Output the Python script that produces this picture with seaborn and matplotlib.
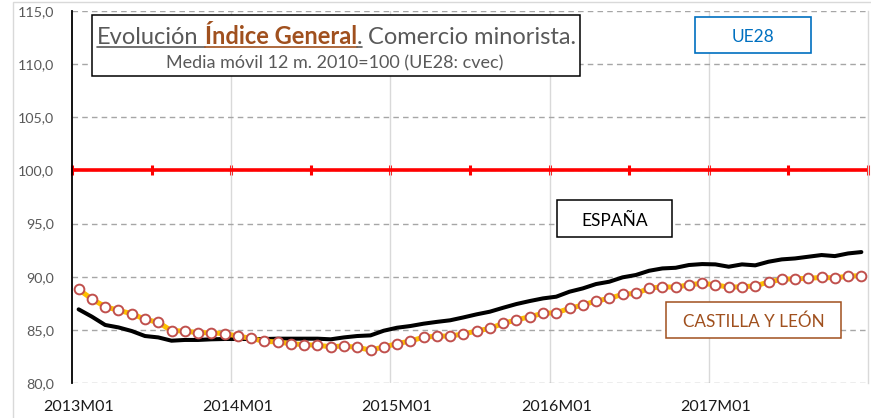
import numpy as np
import pandas as pd
import matplotlib
matplotlib.use("Agg")
import matplotlib.pyplot as plt
import seaborn as sns
from matplotlib.patches import Rectangle
from matplotlib.lines import Line2D
from matplotlib.ticker import MultipleLocator, FuncFormatter

# ---------------- data ----------------
months = [f"{y}M{m:02d}" for y in range(2013, 2018) for m in range(1, 13)]

espana = [86.93, 86.24, 85.46, 85.23, 84.89, 84.42, 84.29, 83.98, 84.05, 84.05,
          84.11, 84.14, 84.14, 84.14, 84.14, 84.17, 84.17, 84.17, 84.17, 84.11,
          84.29, 84.42, 84.48, 84.92, 85.20, 85.36, 85.58, 85.75, 85.90, 86.17,
          86.46, 86.71, 87.08, 87.43, 87.71, 87.96, 88.12, 88.59, 88.90, 89.31,
          89.53, 89.94, 90.16, 90.56, 90.78, 90.84, 91.10, 91.19, 91.16, 90.94,
          91.16, 91.07, 91.41, 91.63, 91.72, 91.88, 92.04, 91.94, 92.19, 92.32]

castilla = [88.81, 87.90, 87.18, 86.84, 86.52, 85.99, 85.71, 84.92, 84.89, 84.73,
            84.73, 84.64, 84.42, 84.20, 83.92, 83.86, 83.70, 83.61, 83.54, 83.42,
            83.48, 83.35, 83.10, 83.39, 83.70, 83.95, 84.31, 84.40, 84.42, 84.61,
            84.89, 85.14, 85.61, 85.93, 86.24, 86.55, 86.61, 87.02, 87.34, 87.71,
            87.96, 88.34, 88.43, 88.90, 89.06, 89.00, 89.25, 89.37, 89.25, 89.00,
            89.06, 89.13, 89.50, 89.75, 89.81, 89.84, 89.94, 89.88, 90.06, 90.09]

tick_labels = ["2013M01", "2014M01", "2015M01", "2016M01", "2017M01"]
ue28_base = 100.0
y_range = (80, 115)

title_parts = [("Evolución", "gray", "normal", True),
               ("Índice General", "brown", "bold", True),
               (".", "gray", "normal", True),
               ("Comercio minorista.", "gray", "normal", False)]
subtitle = "Media móvil 12 m. 2010=100 (UE28: cvec)"

# ---------------- style ----------------
sns.set_theme(style="white")
plt.rcParams["font.family"] = ["Lato", "DejaVu Sans"]

GRAY = "#595959"
BROWN = "#A0501E"
BLUE = "#0070C0"

W, H = 871, 418
fig = plt.figure(figsize=(W / 100, H / 100), dpi=100)
fig.patch.set_facecolor("white")
ax = fig.add_axes([72 / W, 1 - 383 / H, (868 - 72) / W, (383 - 11) / H])

df = pd.DataFrame({"mes": months, "idx": np.arange(len(months)),
                   "España": espana, "Castilla y León": castilla})

sns.lineplot(data=df, x="idx", y="España", ax=ax, color="black", lw=2.9,
             zorder=3)
sns.lineplot(data=df, x="idx", y="Castilla y León", ax=ax, color="#FFC000",
             lw=3.6, marker="o", markersize=7, markerfacecolor="white",
             markeredgecolor="#C0504D", markeredgewidth=1.4, zorder=4)

n = len(months)
ax.set_xlim(-0.5, n - 0.5)
ax.set_ylim(*y_range)
ax.set_xlabel("")
ax.set_ylabel("")

# x axis: labels at the labelled months, gridlines at year boundaries
ax.set_xticks([months.index(t) for t in tick_labels])
ax.set_xticklabels(tick_labels)
ax.set_xticks([months.index(t) - 0.5 for t in tick_labels[1:]], minor=True)
ax.tick_params(axis="x", which="both", length=0, labelsize=11.5,
               labelcolor="#1a1a1a", pad=12)
ax.grid(which="minor", axis="x", color="#D9D9D9", lw=1, ls="-")

# y axis
ax.yaxis.set_major_locator(MultipleLocator(5))
ax.yaxis.set_minor_locator(MultipleLocator(1))
ax.yaxis.set_major_formatter(FuncFormatter(lambda v, p: f"{v:.1f}".replace(".", ",")))
ax.tick_params(axis="y", which="both", direction="inout", length=7.5,
               width=1.1, color="black", labelsize=10.3, labelcolor=GRAY, pad=9)
ax.grid(which="major", axis="y", color="#A6A6A6", ls=(0, (4, 3)), lw=1)
ax.set_axisbelow(True)

for s in ["top", "bottom"]:
    ax.spines[s].set_visible(False)
ax.spines["left"].set_color("black")
ax.spines["left"].set_linewidth(1.3)
ax.spines["right"].set_color("#D9D9D9")
ax.spines["right"].set_linewidth(1)

# red UE28 axis at 100
ax.axhline(ue28_base, color="#FF0000", lw=2.6, zorder=2.5)
loc = (ue28_base - y_range[0]) / (y_range[1] - y_range[0])
sec = ax.secondary_xaxis(loc)
sec.set_xticks(np.arange(-0.5, n, 6))
sec.tick_params(direction="inout", length=7, width=2.2, color="#FF0000",
                labeltop=False, labelbottom=False)
for sp in sec.spines.values():
    sp.set_visible(False)

# outer chart border
fig.add_artist(Rectangle((13 / W, -0.05), 1.0, 1 - 2 / H + 0.05,
                         transform=fig.transFigure, fill=False,
                         ec="#D9D9D9", lw=1))


def box(x0, y0, x1, y1, ec, lw=1.1):
    fig.add_artist(Rectangle((x0 / W, 1 - y1 / H), (x1 - x0) / W, (y1 - y0) / H,
                             transform=fig.transFigure, fc="white", ec=ec,
                             lw=lw, zorder=10))


# title box
box(92, 15, 580, 76, "black", 1.1)
r = fig.canvas.get_renderer()
fs_title = 17


def text_w(s, **kw):
    t = fig.text(0, 0, s, fontsize=fs_title, **kw)
    w = t.get_window_extent(r).width
    t.remove()
    return w


space_w = text_w("a a") - text_w("aa")
xcur = 97
base_y = 44
colors = {"gray": GRAY, "brown": BROWN}
for i, (txt, c, wt, ul) in enumerate(title_parts):
    t = fig.text(xcur / W, 1 - base_y / H, txt, color=colors[c], fontsize=fs_title,
                 fontweight=wt, va="baseline", ha="left", zorder=11)
    bb = t.get_window_extent(r)
    xend = bb.x1
    nxt_gap = 0 if (i + 1 < len(title_parts) and title_parts[i + 1][0] == ".") else space_w
    if i == len(title_parts) - 1:
        nxt_gap = 0
    if ul:
        ul_end = xend + (nxt_gap if c == "gray" and txt != "." else 0)
        fig.add_artist(Line2D([xcur / W, ul_end / W], [1 - (base_y + 3) / H] * 2,
                              color=colors[c], lw=1.2, zorder=11))
    xcur = xend + nxt_gap

fig.text(334.5 / W, 1 - 68.5 / H, subtitle, color=GRAY, fontsize=13, ha="center",
         va="baseline", zorder=11)

# UE28 label
box(695, 17, 811, 53, BLUE, 1.2)
fig.text(753 / W, 1 - 35 / H, "UE28", color=BLUE, fontsize=12.5, ha="center",
         va="center_baseline", zorder=11)

# ESPAÑA label
box(557, 200, 672, 237, "black", 1.1)
fig.text(614.5 / W, 1 - 219 / H, "ESPAÑA", color="black", fontsize=12.5, ha="center",
         va="center_baseline", zorder=11)

# CASTILLA Y LEÓN label
box(666, 302, 841, 338, BROWN, 1.1)
fig.text(753.5 / W, 1 - 320.5 / H, "CASTILLA Y LEÓN", color=BROWN, fontsize=12.3,
         ha="center", va="center_baseline", zorder=11)

fig.savefig("out.png", dpi=100)
